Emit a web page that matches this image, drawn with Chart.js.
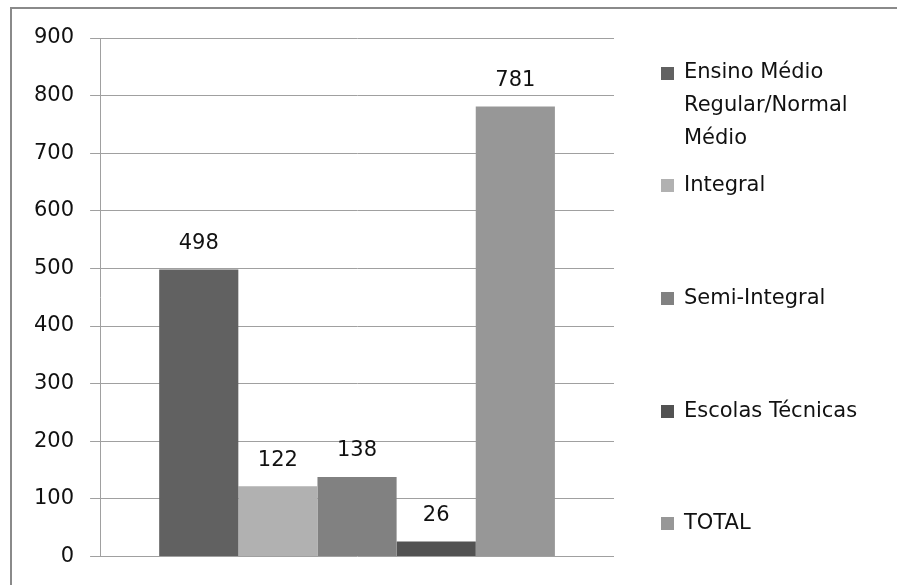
<!DOCTYPE html>
<html lang="pt">
<head>
<meta charset="utf-8">
<title>Matrículas por modalidade</title>
<script src="https://cdn.jsdelivr.net/npm/chart.js@4.4.1/dist/chart.umd.min.js"></script>
<style>
  html, body { margin: 0; padding: 0; background: #ffffff; }
  #wrap { position: relative; width: 897px; height: 585px; }
</style>
</head>
<body>
<div id="wrap"><canvas id="chart" width="897" height="585"></canvas></div>
<script>
// Series names, their values and colours
const seriesNames = ['Ensino Médio Regular/Normal Médio', 'Integral', 'Semi-Integral', 'Escolas Técnicas', 'TOTAL'];
const seriesValues = [498, 122, 138, 26, 781];
const seriesColors = ['#616161', '#b1b1b1', '#818181', '#525252', '#979797'];
// Value axis ticks
const yTicks = [0, 100, 200, 300, 400, 500, 600, 700, 800, 900];

const FONT = 'DejaVu Sans';
const FONT_SIZE = 21;
const TEXT_COLOR = '#111111';

// White background plus the frame lines on top and left
const framePlugin = {
  id: 'frame',
  beforeDraw(chart) {
    const ctx = chart.ctx;
    ctx.save();
    ctx.fillStyle = '#ffffff';
    ctx.fillRect(0, 0, chart.width, chart.height);
    ctx.fillStyle = '#8a8a8a';
    ctx.fillRect(10, 7, chart.width - 10, 2);
    ctx.fillRect(10, 7, 2, chart.height - 7);
    ctx.restore();
  }
};

// Value labels above each bar
const valueLabels = {
  id: 'valueLabels',
  afterDatasetsDraw(chart) {
    const ctx = chart.ctx;
    ctx.save();
    ctx.font = FONT_SIZE + 'px "' + FONT + '"';
    ctx.fillStyle = TEXT_COLOR;
    ctx.textAlign = 'center';
    ctx.textBaseline = 'middle';
    chart.data.datasets.forEach((ds, i) => {
      const bar = chart.getDatasetMeta(i).data[0];
      ctx.fillText(String(ds.data[0]), bar.x, bar.y - 26);
    });
    ctx.restore();
  }
};

// Legend at the right, one row slot per series, long names wrapped
const sideLegend = {
  id: 'sideLegend',
  afterDraw(chart, args, opts) {
    const ctx = chart.ctx;
    ctx.save();
    ctx.font = FONT_SIZE + 'px "' + FONT + '"';
    ctx.textBaseline = 'middle';
    ctx.textAlign = 'left';
    chart.data.datasets.forEach((ds, i) => {
      const words = ds.label.split(' ');
      const lines = [];
      let cur = '';
      words.forEach(w => {
        const test = cur ? cur + ' ' + w : w;
        if (cur && ctx.measureText(test).width > opts.maxTextWidth) {
          lines.push(cur);
          cur = w;
        } else {
          cur = test;
        }
      });
      if (cur) lines.push(cur);
      const y0 = opts.top + i * opts.rowStep;
      ctx.fillStyle = ds.backgroundColor;
      ctx.fillRect(opts.boxX, Math.round(y0 - opts.boxSize / 2), opts.boxSize, opts.boxSize);
      ctx.fillStyle = TEXT_COLOR;
      lines.forEach((ln, k) => {
        ctx.fillText(ln, opts.textX, y0 + k * opts.lineHeight);
      });
    });
    ctx.restore();
  }
};

const datasets = seriesNames.map((name, i) => ({
  label: name,
  data: [seriesValues[i]],
  backgroundColor: seriesColors[i],
  borderWidth: 0,
  categoryPercentage: 0.77,
  barPercentage: 1.0
}));

new Chart(document.getElementById('chart'), {
  type: 'bar',
  data: { labels: [''], datasets },
  options: {
    responsive: false,
    animation: false,
    layout: { padding: { top: 38, right: 283, bottom: 20, left: 18 } },
    plugins: {
      legend: { display: false },
      tooltip: { enabled: false },
      sideLegend: {
        boxX: 661, boxSize: 13, textX: 684,
        top: 73, rowStep: 112.7, lineHeight: 33, maxTextWidth: 200
      }
    },
    scales: {
      x: {
        display: false
      },
      y: {
        min: 0,
        max: 900,
        afterBuildTicks(scale) {
          scale.ticks = yTicks.map(v => ({ value: v }));
        },
        ticks: {
          color: TEXT_COLOR,
          font: { family: FONT, size: FONT_SIZE },
          padding: 16
        },
        grid: {
          color: '#a0a0a0',
          lineWidth: 1,
          tickLength: 10,
          drawTicks: true
        },
        border: { display: true, color: '#a0a0a0', width: 1 }
      }
    }
  },
  plugins: [framePlugin, valueLabels, sideLegend]
});
</script>
</body>
</html>
